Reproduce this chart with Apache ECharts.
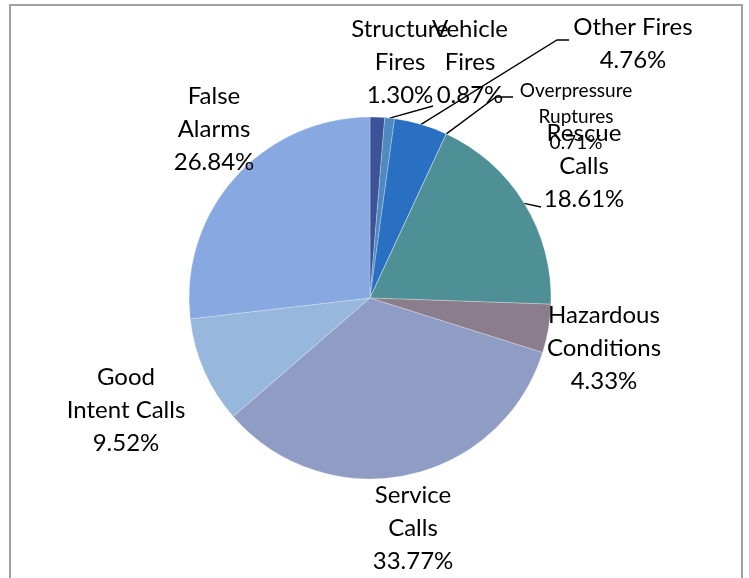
<!DOCTYPE html>
<html>
<head>
<meta charset="utf-8">
<script src="https://cdn.jsdelivr.net/npm/echarts@6/dist/echarts.min.js"></script>
<style>
  html, body { margin: 0; padding: 0; background: #fff; }
  #main { width: 749px; height: 578px; }
</style>
</head>
<body>
<div id="main"></div>
<script>
// 数据
const categories = ['Structure Fires', 'Vehicle Fires', 'Other Fires', 'Overpressure Ruptures',
  'Rescue Calls', 'Hazardous Conditions', 'Service Calls', 'Good Intent Calls', 'False Alarms']
const labelText = ['Structure\nFires', 'Vehicle\nFires', 'Other Fires', 'Overpressure\nRuptures',
  'Rescue\nCalls', 'Hazardous\nConditions', 'Service\nCalls', 'Good\nIntent Calls', 'False\nAlarms']
// 标签上的百分比
const percents = [1.30, 0.87, 4.76, 0.71, 18.61, 4.33, 33.77, 9.52, 26.84]
// 扇区大小（图中 Overpressure 扇区宽度为零，其余合计 100）
const sliceValues = [1.30, 0.87, 4.76, 0, 18.61, 4.33, 33.77, 9.52, 26.84]

// 样式
const colors = ['#3D5398', '#4E8AC0', '#2A70C2', '#3F8A9E', '#4E9096', '#8B7D8B', '#8F9CC4', '#98B7DD', '#87A8E0']
const labelPos = [[400, 62], [470, 62], [633, 44], [576, 117], [584, 166], [604, 348], [413, 528], [126, 410], [214, 129]]
// 引导线折点和终点，null 表示没有引导线
const leaderEnds = [null, [[433, 106]], [[557, 40], [569, 40]], [[496, 97], [513, 97]], [[541, 207]], null, null, null, null]

const myChart = echarts.init(document.getElementById('main'))

const option = {
  backgroundColor: '#fff',
  animation: false,
  graphic: [
    {
      type: 'rect',
      shape: { x: 10, y: 5, width: 732, height: 600 },
      style: { fill: 'none', stroke: '#a0a0a0', lineWidth: 2 },
      silent: true
    }
  ],
  series: [
    {
      type: 'pie',
      center: [370, 298],
      radius: 181,
      startAngle: 90,
      clockwise: true,
      avoidLabelOverlap: false,
      itemStyle: { borderColor: 'rgba(255,255,255,0.5)', borderWidth: 0.5 },
      label: {
        show: true,
        position: 'outside',
        fontFamily: 'Lato',
        fontSize: 24,
        lineHeight: 33,
        color: '#000',
        align: 'center',
        formatter: p => labelText[p.dataIndex] + '\n' + percents[p.dataIndex].toFixed(2) + '%'
      },
      labelLine: { length: 10, length2: 10, lineStyle: { color: '#000', width: 1.3 } },
      labelLayout: p => {
        const i = p.dataIndex
        const res = {
          x: labelPos[i][0],
          y: labelPos[i][1],
          align: 'center',
          verticalAlign: 'middle',
          hideOverlap: false
        }
        if (leaderEnds[i] && p.labelLinePoints) {
          res.labelLinePoints = [p.labelLinePoints[0]].concat(leaderEnds[i])
        }
        return res
      },
      data: categories.map((name, i) => ({
        name: name,
        value: sliceValues[i],
        itemStyle: { color: colors[i] },
        label: i === 3 ? { fontSize: 19, lineHeight: 26 } : {},
        labelLine: { show: leaderEnds[i] !== null }
      }))
    }
  ]
}

myChart.setOption(option)
</script>
</body>
</html>
